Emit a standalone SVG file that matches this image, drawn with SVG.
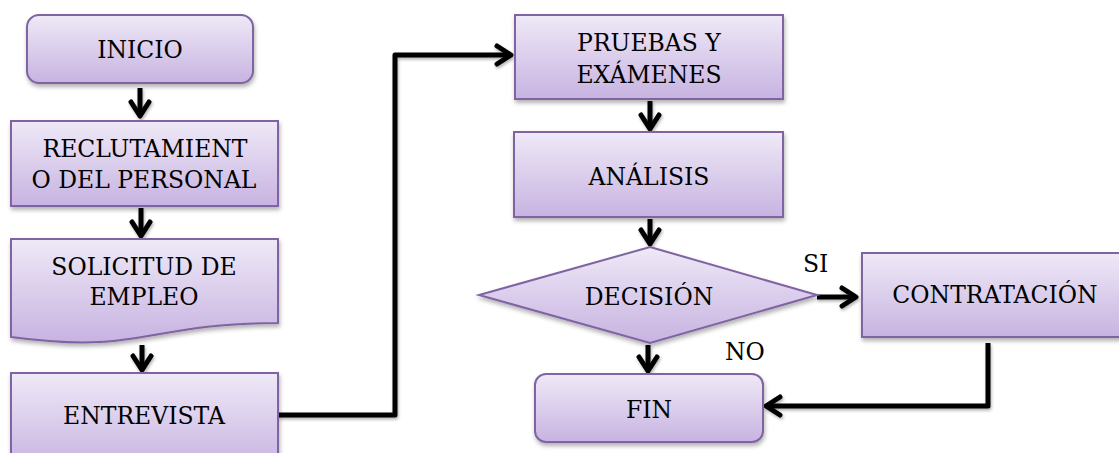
<svg xmlns="http://www.w3.org/2000/svg" width="1119" height="453" viewBox="0 0 1119 453">
  <defs>
    <linearGradient id="boxFill" x1="0" y1="0" x2="0" y2="1">
      <stop offset="0" stop-color="#efe9f7"/>
      <stop offset="1" stop-color="#c7b3e1"/>
    </linearGradient>
    <filter id="shadow" x="-10%" y="-10%" width="120%" height="140%">
      <feDropShadow dx="1" dy="3" stdDeviation="2" flood-color="#000" flood-opacity="0.3"/>
    </filter>
    <!-- user-space region so straight vertical/horizontal lines still render -->
    <filter id="lineShadow" filterUnits="userSpaceOnUse" x="0" y="0" width="1119" height="453">
      <feDropShadow dx="1" dy="2" stdDeviation="1.5" flood-color="#000" flood-opacity="0.3"/>
    </filter>
    <marker id="chevron" viewBox="-18 -12 22 24" refX="0" refY="0" markerWidth="22" markerHeight="24" markerUnits="userSpaceOnUse" orient="auto">
      <path d="M-14,-9 L0,0 L-14,9" fill="none" stroke="#000" stroke-width="5" stroke-linecap="round" stroke-linejoin="round"/>
    </marker>
    <style>
      .shape { fill: url(#boxFill); stroke: #8064a2; stroke-width: 2; filter: url(#shadow); }
      .label { font-size: 23.5px; fill: #000; text-anchor: middle; }
      .tag { font-size: 23.5px; fill: #000; }
      .conn { fill: none; stroke: #000; stroke-width: 5; stroke-linejoin: round; filter: url(#lineShadow); }
      .arrow { marker-end: url(#chevron); }
    </style>
  </defs>

  <!-- connectors -->
  <g id="connectors">
    <path class="conn arrow" d="M140,88 V116"/>
    <path class="conn arrow" d="M141,208 V236"/>
    <path class="conn arrow" d="M142,345 V370"/>
    <path class="conn arrow" d="M278,415 H395 V55 H511"/>
    <path class="conn arrow" d="M650,101 V129"/>
    <path class="conn arrow" d="M650,219 V244"/>
    <path class="conn arrow" d="M817,297 H856"/>
    <path class="conn arrow" d="M648,345 V371"/>
    <path class="conn arrow" d="M988,343 V406 H766"/>
  </g>

  <g font-family="'DejaVu Serif', serif">
    <!-- left column -->
    <g id="inicio">
      <rect class="shape" x="27" y="15" width="226" height="68" rx="12" ry="12"/>
      <text class="label" x="140" y="58">INICIO</text>
    </g>
    <g id="reclutamiento">
      <rect class="shape" x="11" y="121" width="267" height="85"/>
      <text class="label" x="145" y="157">RECLUTAMIENT</text>
      <text class="label" x="144" y="188">O DEL PERSONAL</text>
    </g>
    <g id="solicitud">
      <path class="shape" d="M11,239 H278 V323 C144.5,323 144.5,355 11,337 Z"/>
      <text class="label" x="144" y="275">SOLICITUD DE</text>
      <text class="label" x="144" y="305">EMPLEO</text>
    </g>
    <g id="entrevista">
      <rect class="shape" x="11" y="373" width="267" height="95"/>
      <text class="label" x="144" y="424">ENTREVISTA</text>
    </g>

    <!-- right column -->
    <g id="pruebas">
      <rect class="shape" x="515" y="15" width="268" height="84"/>
      <text class="label" x="649" y="51">PRUEBAS Y</text>
      <text class="label" x="649" y="83">EXÁMENES</text>
    </g>
    <g id="analisis">
      <rect class="shape" x="514" y="132" width="269" height="85"/>
      <text class="label" x="649" y="185">ANÁLISIS</text>
    </g>
    <g id="decision">
      <polygon class="shape" points="650,247 817,295 650,343 479,295"/>
      <text class="label" x="649" y="305">DECISIÓN</text>
    </g>
    <g id="contratacion">
      <rect class="shape" x="862" y="253" width="262" height="84"/>
      <text class="label" x="995" y="303">CONTRATACIÓN</text>
    </g>
    <g id="fin">
      <rect class="shape" x="535" y="374" width="228" height="68" rx="11" ry="11"/>
      <text class="label" x="649" y="418">FIN</text>
    </g>

    <!-- branch labels -->
    <text class="tag" x="803" y="272">SI</text>
    <text class="tag" x="725" y="360">NO</text>
  </g>
</svg>
